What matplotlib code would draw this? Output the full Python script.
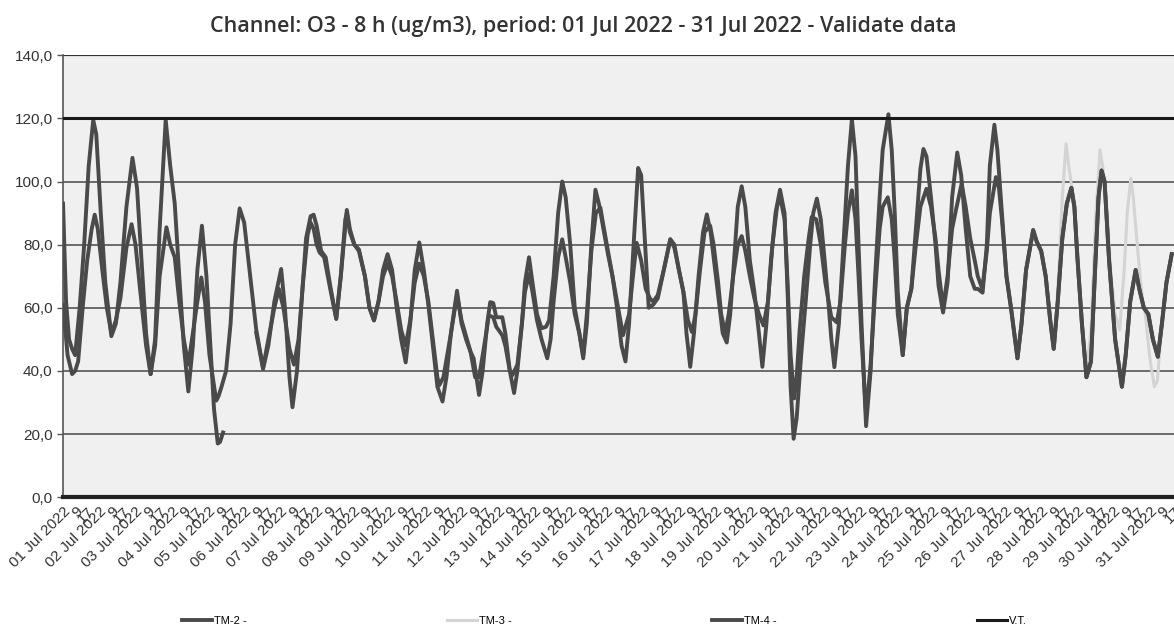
import numpy as np
import matplotlib.pyplot as plt

# hours since 01 Jul 2022 00:00, values in ug/m3
tm2_hours = [0, 2, 4, 6, 8, 11, 14, 17, 20, 22, 25, 28, 32, 35, 38, 42, 46, 49, 52, 55,
             58, 61, 64, 68, 71, 74, 77, 80, 83, 86, 89, 92, 95, 98, 100, 102.5, 104, 106,
             107,
             128, 132.5, 136, 140, 144.5, 147, 150, 152, 155, 158, 161, 164, 166, 168, 171,
             174, 177, 181, 184, 188, 190, 193, 196, 200, 203, 206, 209, 212, 215, 218, 221,
             224, 227, 230, 233, 236, 239, 242, 245, 248, 251.4, 254, 257, 261, 264, 267, 270,
             272, 275.6, 278, 281, 283, 285, 287, 291, 293, 296, 298.8, 301, 304, 306, 308.7,
             311, 314, 317, 320, 322, 325, 328, 330.7, 333, 336, 339, 342, 344.6, 347, 350,
             352.7, 355, 358, 361, 364, 367, 370, 372.6, 375, 378, 381, 383, 385, 388, 391,
             394, 398, 402.3, 405, 408, 411, 413, 415.5, 418, 421, 424, 426.5, 429, 432, 435,
             437, 439.7, 442, 445, 447, 449.6, 452, 455, 458, 461, 463.3, 466, 469, 472, 475,
             478, 480, 482, 484, 486, 489, 492, 495, 497, 499.4, 502, 504, 507, 509, 511, 514,
             517, 520, 522.6, 525, 527, 529, 532, 535, 538, 541, 543, 546.8, 549, 551, 553,
             556.3, 559, 562, 565, 568, 570, 572, 575, 578, 580, 583, 586, 589, 592.4, 595,
             598, 601, 604, 606, 609.2, 612, 614, 617, 619, 622, 625, 628]
tm2_values = [93, 62, 50, 47, 45, 60, 80, 105, 119.5, 115, 90, 68, 51, 55, 68, 92, 107.5, 98, 75, 52,
              39, 50, 85, 119.5, 105, 93, 70, 48, 33.5, 48, 72, 86, 70, 45, 28, 17, 17.5, 20.5,
              np.nan,
              52, 40.6, 48, 62, 72.3, 60, 38, 28.5, 40, 62, 82, 89, 89.5, 86, 78,
              76, 67, 56.5, 70, 91, 85, 80, 78.5, 70, 60, 56, 62, 72, 77, 72, 60,
              50, 42.7, 55, 72, 80.7, 72, 61, 48, 35, 30.3, 38, 52, 65.4, 55, 50, 46,
              44, 32.4, 40, 55, 61.8, 61.5, 57, 57, 52, 40, 33, 40, 55, 68, 76,
              68, 58, 53.5, 54, 56, 70, 90, 100, 95, 80, 60, 52, 44, 55, 80,
              97.4, 93, 85, 77, 70, 60, 48, 43, 55, 80, 104.3, 102, 85, 60, 61,
              63, 72, 81.7, 80, 72, 65, 52, 41.3, 52, 70, 84, 89.6, 84, 72, 60,
              52, 49, 58, 78, 92, 98.5, 92, 75, 65, 52, 41.3, 55, 75, 90, 97.4,
              90, 65, 35, 18.5, 25, 45, 62, 80, 90, 94.6, 88, 78, 62, 50, 41.2, 55,
              80, 105, 119.7, 108, 80, 55, 22.5, 40, 70, 95, 110, 121.3, 110, 90, 65,
              45, 60, 66, 85, 104, 110.3, 108, 95, 80, 67, 58.5, 68, 95, 109.2, 102,
              85, 70, 66, 66, 64.8, 80, 105, 118, 110, 90, 70, 60]

tm4_hours = [0, 3, 6, 8, 10, 13, 16, 19, 21, 23, 26, 29, 32, 35, 38, 42, 45.4, 48, 51, 55,
             58, 61, 64, 68.5, 71, 74, 77, 80, 83, 86, 89, 91.6, 94, 97, 101.5, 103, 105, 108,
             111, 114, 117, 120, 124, 128, 132.5, 136, 140, 143, 146, 150, 153, 156, 159, 162,
             164, 166, 168, 170, 173, 177, 181, 184, 187, 188, 190, 193, 196, 200, 203, 206,
             209, 212, 215, 218, 221, 224, 227, 230, 233, 236, 239, 242, 245, 248, 249.3, 252,
             257, 261, 264, 267, 270, 273, 275.6, 278, 281, 282, 285, 287, 291, 293, 296,
             297.7, 301, 304, 306, 308.7, 311, 314, 317, 320.8, 323, 325, 328, 330.7, 333, 336,
             339, 342, 344.6, 347, 350, 353, 356, 358, 361, 364, 367, 370, 371, 375, 378, 380,
             383, 386, 389, 391, 394, 398, 402.3, 405, 408, 411, 414, 416.7, 419, 422, 425,
             428.7, 431, 434, 436, 438.6, 441, 444, 447, 449.6, 452, 455, 458, 461, 464, 467,
             470, 473, 475, 478, 480, 482, 484.4, 486, 488, 491, 494, 496, 499, 502, 505, 509,
             512.6, 515, 518, 520, 522.6, 525, 527, 529, 532, 535, 538, 541, 543, 546.4, 549,
             551, 553, 556.3, 559, 562, 565, 568, 572, 575, 578, 580, 583, 586, 589, 592,
             595.3, 598, 601, 604, 606, 609, 612, 614, 618, 620, 622, 625, 628]
tm4_values = [61, 45, 39, 40, 43, 60, 75, 85, 89.5, 85, 72, 60, 52, 56, 63, 79, 86.5, 80, 66, 48,
              39, 48, 70, 85.5, 80, 76, 62, 50, 42, 52, 62, 69.6, 62, 45, 30.6, 32, 35, 40,
              55, 80, 91.5, 87, 70, 53, 41, 50, 60, 66, 60, 47, 42, 50, 68, 83,
              87, 85, 80, 77.5, 76, 66, 56.5, 70, 88, 90, 84, 80, 78, 70, 60, 56,
              62, 70, 74, 70, 62, 53, 48, 56, 68, 74, 70, 62, 50, 38, 35.5, 38,
              52, 64, 56, 51, 46, 38, 38, 45, 54, 57.6, 57, 54, 51.3, 48, 40,
              38.7, 42, 55, 65, 70.7, 65, 56, 50, 44, 50, 62, 76, 81.7, 76, 68,
              58, 52, 45, 58, 78, 90, 91.7, 86, 78, 70, 62, 54, 51.3, 58, 72, 80.6,
              75, 66, 62.8, 62, 64, 72, 81.7, 79, 72, 65, 56, 52.3, 58, 72, 84,
              86, 80, 68, 58, 52, 58, 70, 80, 82.7, 78, 70, 63, 58, 54.4, 62,
              80, 92, 95.3, 88, 68, 45, 31.3, 38, 53, 70, 82, 88.8, 88, 80, 68, 57,
              55.4, 62, 80, 90, 97.2, 88, 70, 50, 26, 42, 65, 85, 92, 95, 88,
              75, 58, 45, 60, 66, 80, 92, 97.7, 92, 82, 72, 60, 70, 85, 92,
              99.3, 92, 82, 75, 70, 66, 78, 90, 101.4, 98, 88, 70, 60]

# from here on TM-2 and TM-4 lie on top of each other
tail_hours = [632.3, 635, 638, 642.7, 645, 648, 651, 654, 656.3, 659, 662, 665, 668, 670, 672,
              675, 678, 681, 684, 686, 688, 690, 693, 697, 701.5, 704, 707, 710.6, 713, 716,
              719, 722, 725.3, 728, 731, 734.5]
tail_values = [44, 55, 72, 84.6, 81, 78, 70, 56, 47, 62, 82, 93, 98, 92, 76,
               55, 38, 43, 75, 95, 103.5, 100, 75, 50, 35, 45, 62, 72, 66, 60,
               58, 50, 44.5, 55, 68, 77]

tm3_hours = [657, 660, 662, 664.5, 666, 668, 670, 672, 675, 678, 681, 684, 687, 689, 691, 694,
             697, 700, 703, 705, 707.4, 709, 712, 715, 717, 720, 723, 725, 728, 731, 734.5]
tm3_values = [48, 75, 95, 112, 106, 99, 92, 75, 55, 40, 53, 88, 110, 104, 95, 72,
              58, 53, 72, 90, 101, 95, 78, 63, 58, 44, 35, 37, 55, 68, 77]

vt_value = 120
days = list(range(1, 32))
title = "Channel: O3 - 8 h (ug/m3), period: 01 Jul 2022 - 31 Jul 2022 - Validate data"

plt.rcParams['font.family'] = ['Liberation Sans', 'DejaVu Sans']

fig = plt.figure(figsize=(11.74, 6.35), dpi=100)
ax = fig.add_axes([0.0537, 0.217, 0.9463, 0.696])
ax.set_facecolor('#f0f0f0')

dark = '#4a4a4a'
ax.plot(tm3_hours, tm3_values, color='#d4d4d4', lw=2.2, zorder=2, label='TM-3 -')
ax.plot(tm2_hours + tail_hours, tm2_values + tail_values, color=dark, lw=2.8, zorder=3,
        label='TM-2 -')
ax.plot(tm4_hours + tail_hours, tm4_values + tail_values, color=dark, lw=2.8, zorder=3,
        label='TM-4 -')
ax.axhline(vt_value, color='#1a1a1a', lw=2.2, zorder=4, label='V.T.')

ax.set_ylim(0, 140)
ax.set_xlim(0, 734.5)
ax.set_yticks(np.arange(0, 141, 20))
ax.set_yticklabels([f"{v:.1f}".replace('.', ',') for v in np.arange(0, 141, 20)],
                   fontsize=11, color='#333333')
ax.yaxis.grid(True, color='#555555', lw=1.2, zorder=1)
ax.set_axisbelow(True)

ticks = []
labels = []
for d in days:
    base = (d - 1) * 24
    ticks += [base, base + 8, base + 16]
    labels += [f"{d:02d} Jul 2022", "9", "17"]
ax.set_xticks(ticks)
ax.set_xticklabels(labels, rotation=45, ha='right', rotation_mode='anchor',
                   fontsize=11, color='#333333')
ax.tick_params(axis='x', length=0, pad=5)
ax.tick_params(axis='y', length=4, width=1, color='#555555')

for s in ['top', 'right']:
    ax.spines[s].set_visible(False)
ax.spines['left'].set_color('#555555')
ax.spines['left'].set_linewidth(1.2)
ax.spines['bottom'].set_color('#222222')
ax.spines['bottom'].set_linewidth(3)
ax.axhline(140, color='#333333', lw=1.6, zorder=1)

fig.text(0.497, 0.958, title, ha='center', va='center', fontsize=15.5,
         family=['Open Sans', 'DejaVu Sans'], fontweight='semibold', color='#333333')

h, l = ax.get_legend_handles_labels()
order = [l.index('TM-2 -'), l.index('TM-3 -'), l.index('TM-4 -'), l.index('V.T.')]
fig.legend([h[i] for i in order], [l[i] for i in order], loc='center', ncol=4,
           bbox_to_anchor=(0.515, 0.022), frameon=False, fontsize=8,
           handlelength=2.7, handletextpad=0.2, columnspacing=18)

fig.savefig('out.png', dpi=100)
